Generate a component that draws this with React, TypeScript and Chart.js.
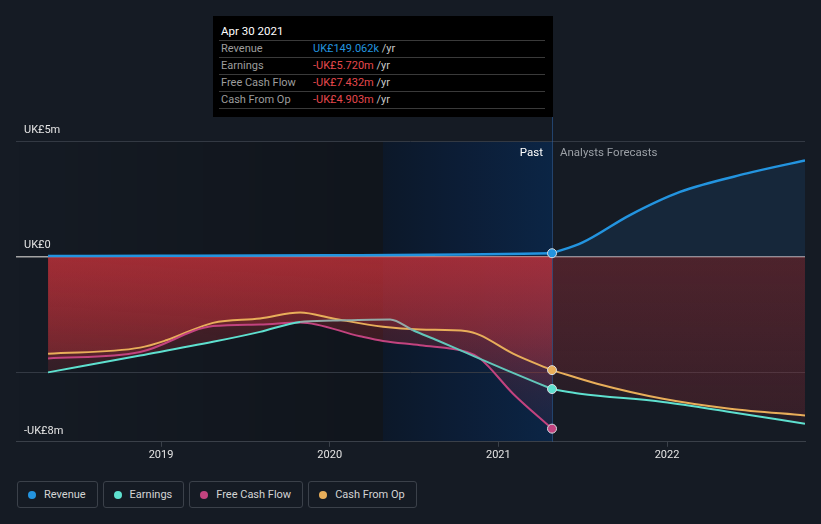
import React, { useEffect, useRef } from 'react';
import { Chart, registerables } from 'chart.js';

Chart.register(...registerables);

// ---------- data (x in decimal years, y in UK£ millions) ----------
const yearTicks = [2019, 2020, 2021, 2022];
const yTickValues = [-8, -5, 0, 5];
const yTickLabels = ['-UK£8m', '', 'UK£0', 'UK£5m'];
const xMin = 2018.14;
const xMax = 2022.818;
const highlightStart = 2020.316;
const pastEnd = 2021.318;

const revenuePastX = [2018.33, 2019.0, 2020.0, 2020.8, 2021.318];
const revenuePastY = [0.03, 0.04, 0.06, 0.09, 0.149];
const revenueFcX = [2021.318, 2021.5, 2021.78, 2022.077, 2022.474, 2022.818];
const revenueFcY = [0.149, 0.62, 1.8, 2.8, 3.6, 4.16];

const earningsPastX = [2018.33, 2018.876, 2019.308, 2019.587, 2019.824, 2020.02, 2020.358, 2020.494, 2020.636, 2020.814, 2021.051, 2021.318];
const earningsPastY = [-5.0, -4.27, -3.68, -3.25, -2.82, -2.76, -2.71, -3.18, -3.61, -4.17, -4.91, -5.72];
const earningsFcX = [2021.318, 2021.484, 2021.976, 2022.373, 2022.818];
const earningsFcY = [-5.72, -5.92, -6.28, -6.71, -7.22];

const fcfPastX = [2018.33, 2018.876, 2019.308, 2019.587, 2019.824, 2020.18, 2020.316, 2020.536, 2020.814, 2020.891, 2021.087, 2021.318];
const fcfPastY = [-4.4, -4.12, -3.0, -2.93, -2.84, -3.44, -3.64, -3.83, -4.12, -4.4, -5.92, -7.432];

const cfoPastX = [2018.33, 2018.876, 2019.036, 2019.308, 2019.587, 2019.824, 2020.02, 2020.316, 2020.536, 2020.814, 2020.891, 2021.087, 2021.318];
const cfoPastY = [-4.19, -3.93, -3.6, -2.86, -2.67, -2.41, -2.67, -3.03, -3.15, -3.22, -3.39, -4.19, -4.903];
const cfoFcX = [2021.318, 2021.585, 2021.976, 2022.373, 2022.818];
const cfoFcY = [-4.903, -5.49, -6.14, -6.57, -6.86];

const tooltipTitle = 'Apr 30 2021';
const tooltipLabels = ['Revenue', 'Earnings', 'Free Cash Flow', 'Cash From Op'];
const tooltipValues = ['UK£149.062k', '-UK£5.720m', '-UK£7.432m', '-UK£4.903m'];
const legendLabels = ['Revenue', 'Earnings', 'Free Cash Flow', 'Cash From Op'];

// ---------- styles ----------
const C_REV = '#2394df';
const C_EARN = '#5ee0cf';
const C_FCF = '#c2437f';
const C_CFO = '#e8ae5a';
const seriesColors = [C_REV, C_EARN, C_FCF, C_CFO];
const valueColors = [C_REV, '#e5484d', '#e5484d', '#e5484d'];
const FONT = 'Roboto, "Noto Sans", sans-serif';

const zip = (xs: number[], ys: number[]) => xs.map((x, i) => ({ x, y: ys[i] }));
const lastPointRadius = (n: number) => Array.from({ length: n }, (_, i) => (i === n - 1 ? 4.5 : 0));

function redFill(top: number, bottom: number, rgb: string) {
  return (ctx: any) => {
    const chart = ctx.chart;
    const area = chart.chartArea;
    if (!area) return 'transparent';
    const y0 = chart.scales.y.getPixelForValue(0);
    const g = chart.ctx.createLinearGradient(0, y0, 0, area.bottom);
    g.addColorStop(0, `rgba(${rgb},${top})`);
    g.addColorStop(1, `rgba(${rgb},${bottom})`);
    return g;
  };
}

const bgPlugin = {
  id: 'bgShade',
  beforeDraw(chart: any) {
    const { ctx, chartArea: a, scales } = chart;
    const xh = scales.x.getPixelForValue(highlightStart);
    const xp = scales.x.getPixelForValue(pastEnd);
    ctx.save();
    let g = ctx.createLinearGradient(a.left, 0, xh, 0);
    g.addColorStop(0, 'rgba(0,0,0,0)');
    g.addColorStop(1, 'rgba(0,0,0,0.22)');
    ctx.fillStyle = g;
    ctx.fillRect(a.left, a.top, xh - a.left, a.bottom - a.top);
    g = ctx.createLinearGradient(xh, 0, xp, 0);
    g.addColorStop(0, '#0c1829');
    g.addColorStop(0.45, '#0c1d36');
    g.addColorStop(1, '#0b2545');
    ctx.fillStyle = g;
    ctx.fillRect(xh, a.top, xp - xh, a.bottom - a.top);
    ctx.restore();
  },
  beforeDatasetsDraw(chart: any) {
    const { ctx, chartArea: a, scales } = chart;
    const xp = Math.round(scales.x.getPixelForValue(pastEnd)) + 0.5;
    ctx.save();
    ctx.strokeStyle = 'rgba(45,100,170,0.55)';
    ctx.lineWidth = 1;
    ctx.beginPath();
    ctx.moveTo(xp, 117);
    ctx.lineTo(xp, a.bottom);
    ctx.stroke();
    ctx.restore();
  },
  afterDatasetsDraw(chart: any) {
    const { ctx, scales } = chart;
    const xp = scales.x.getPixelForValue(pastEnd);
    ctx.save();
    ctx.font = `11.5px ${FONT}`;
    ctx.textBaseline = 'middle';
    ctx.textAlign = 'right';
    ctx.fillStyle = '#ffffff';
    ctx.fillText('Past', xp - 9, 153);
    ctx.textAlign = 'left';
    ctx.fillStyle = '#9ba0a6';
    ctx.fillText('Analysts Forecasts', xp + 8, 153);
    ctx.restore();
  },
};

const lineBase = {
  borderWidth: 2,
  cubicInterpolationMode: 'monotone' as const,
  pointBorderColor: '#d8dce0',
  pointBorderWidth: 1,
};

export default function App() {
  const ref = useRef<HTMLCanvasElement>(null);

  useEffect(() => {
    document.body.style.margin = '0';
    document.body.style.background = '#151b24';
    const pastRed = redFill(0.4, 0.04, '200,50,58');
    const fcRed = redFill(0.25, 0.12, '150,45,55');
    const chart = new Chart(ref.current!, {
      type: 'line',
      data: {
        datasets: [
          {
            ...lineBase,
            label: 'Revenue',
            data: zip(revenuePastX, revenuePastY),
            borderColor: C_REV,
            backgroundColor: C_REV,
            pointBackgroundColor: C_REV,
            pointRadius: lastPointRadius(revenuePastX.length),
            fill: false,
            borderWidth: 2.5,
          },
          {
            ...lineBase,
            label: 'Revenue forecast',
            data: zip(revenueFcX, revenueFcY),
            borderColor: C_REV,
            backgroundColor: 'rgba(30,100,170,0.17)',
            pointRadius: 0,
            fill: 'origin',
            borderWidth: 2.5,
          },
          {
            ...lineBase,
            label: 'Earnings',
            data: zip(earningsPastX, earningsPastY),
            borderColor: C_EARN,
            pointBackgroundColor: C_EARN,
            pointRadius: lastPointRadius(earningsPastX.length),
            fill: false,
            segment: {
              borderColor: (c: any) => {
                const x0 = c.p0.parsed.x;
                if (x0 >= 2019.8 && x0 < 2020.4) return '#93aaa7';
                if (x0 >= 2020.4) return '#62c6ba';
                return undefined;
              },
            },
          },
          {
            ...lineBase,
            label: 'Earnings area',
            data: zip(earningsPastX, earningsPastY),
            borderWidth: 0,
            borderColor: 'rgba(0,0,0,0)',
            backgroundColor: pastRed,
            pointRadius: 0,
            fill: 'origin',
          },
          {
            ...lineBase,
            label: 'Earnings forecast',
            data: zip(earningsFcX, earningsFcY),
            borderColor: C_EARN,
            backgroundColor: fcRed,
            pointRadius: 0,
            fill: 'origin',
          },
          {
            ...lineBase,
            label: 'Free Cash Flow',
            data: zip(fcfPastX, fcfPastY),
            borderColor: C_FCF,
            pointBackgroundColor: C_FCF,
            backgroundColor: pastRed,
            pointRadius: lastPointRadius(fcfPastX.length),
            fill: 'origin',
          },
          {
            ...lineBase,
            label: 'Cash From Op',
            data: zip(cfoPastX, cfoPastY),
            borderColor: C_CFO,
            pointBackgroundColor: C_CFO,
            backgroundColor: pastRed,
            pointRadius: lastPointRadius(cfoPastX.length),
            fill: 'origin',
          },
          {
            ...lineBase,
            label: 'Cash From Op forecast',
            data: zip(cfoFcX, cfoFcY),
            borderColor: C_CFO,
            backgroundColor: fcRed,
            pointRadius: 0,
            fill: 'origin',
          },
        ],
      },
      options: {
        responsive: false,
        animation: false,
        events: [],
        devicePixelRatio: 1,
        layout: { padding: { top: 141, left: 0, right: 16, bottom: 6 } },
        plugins: {
          legend: { display: false },
          tooltip: { enabled: false },
          filler: { drawTime: 'beforeDatasetsDraw' },
        },
        scales: {
          x: {
            type: 'linear',
            min: xMin,
            max: xMax,
            afterBuildTicks: (axis: any) => {
              axis.ticks = yearTicks.map((v) => ({ value: v }));
            },
            ticks: {
              color: '#e4e4e4',
              font: { family: FONT, size: 11 },
              padding: 2,
              maxRotation: 0,
              callback: (v: any) => String(v),
            },
            grid: { drawOnChartArea: false, drawTicks: true, tickLength: 5, color: '#3a4049' },
            border: { display: true, color: '#3a4049', width: 1 },
          },
          y: {
            type: 'linear',
            min: -8,
            max: 5,
            afterBuildTicks: (axis: any) => {
              axis.ticks = yTickValues.map((v) => ({ value: v }));
            },
            afterFit: (axis: any) => {
              axis.width = 16;
            },
            ticks: {
              mirror: true,
              padding: 8,
              labelOffset: -11,
              color: '#e4e4e4',
              font: { family: FONT, size: 11 },
              callback: (v: any) => yTickLabels[yTickValues.indexOf(Number(v))] ?? '',
            },
            grid: {
              drawTicks: false,
              color: (c: any) =>
                c.tick && c.tick.value === 0 ? '#a3a3a3' : c.tick && c.tick.value === -8 ? 'rgba(0,0,0,0)' : '#333943',
              lineWidth: (c: any) => (c.tick && c.tick.value === 0 ? 1.5 : 1),
            },
            border: { display: false },
          },
        },
      } as any,
      plugins: [bgPlugin],
    });
    return () => chart.destroy();
  }, []);

  return (
    <div
      style={{
        position: 'relative',
        width: 821,
        height: 524,
        background: '#151b24',
        fontFamily: FONT,
        overflow: 'hidden',
      }}
    >
      <canvas ref={ref} width={821} height={470} style={{ position: 'absolute', left: 0, top: 0, width: 821, height: 470 }} />
      <div style={{ position: 'absolute', left: 213, top: 16, width: 340, height: 101, background: '#000' }}>
        <div style={{ position: 'absolute', left: 8, top: 8, fontSize: 11.5, lineHeight: '15px', color: '#fff' }}>{tooltipTitle}</div>
        {tooltipLabels.map((lab, i) => (
          <div
            key={lab}
            style={{
              position: 'absolute',
              left: 6,
              right: 8,
              top: 24 + i * 17,
              height: 16,
              borderTop: '1px solid #3a3a3a',
              borderBottom: i === tooltipLabels.length - 1 ? '1px solid #3a3a3a' : 'none',
              fontSize: 11,
              lineHeight: '16px',
            }}
          >
            <span style={{ position: 'absolute', left: 2, color: '#9d9d9d' }}>{lab}</span>
            <span style={{ position: 'absolute', left: 94, whiteSpace: 'nowrap' }}>
              <span style={{ color: valueColors[i] }}>{tooltipValues[i]}</span>
              <span style={{ color: '#c8c8c8' }}> /yr</span>
            </span>
          </div>
        ))}
      </div>
      <div style={{ position: 'absolute', left: 17, top: 481, display: 'flex', gap: 5 }}>
        {legendLabels.map((lab, i) => (
          <div
            key={lab}
            style={{
              height: 25,
              border: '1px solid #3b414a',
              borderRadius: 3,
              display: 'flex',
              alignItems: 'center',
              padding: '0 11px 0 10px',
              fontSize: 11,
              color: '#d4d4d4',
              whiteSpace: 'nowrap',
            }}
          >
            <span
              style={{
                width: 8,
                height: 8,
                borderRadius: '50%',
                background: seriesColors[i],
                display: 'inline-block',
                marginRight: 8,
              }}
            />
            {lab}
          </div>
        ))}
      </div>
    </div>
  );
}
